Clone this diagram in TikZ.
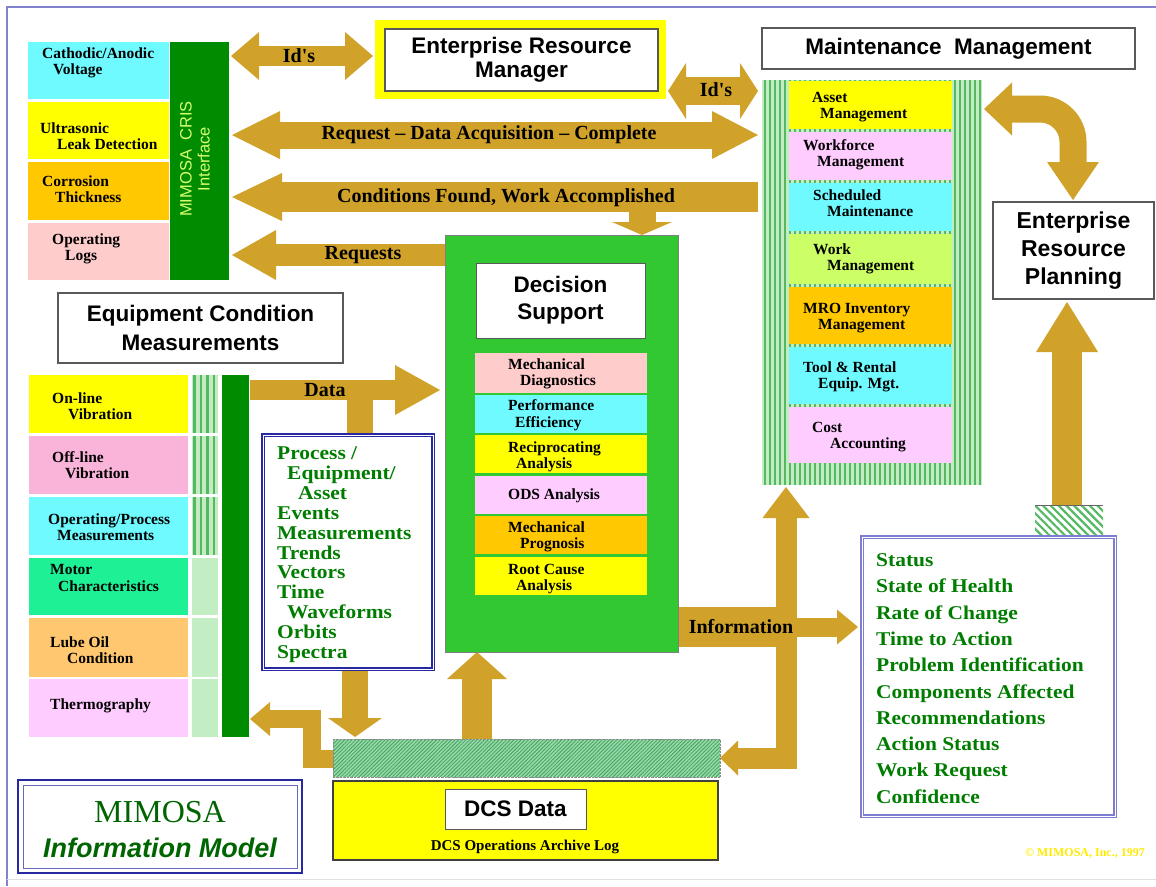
\documentclass[tikz,border=0pt]{standalone}
\usepackage{fontspec}
\setmainfont{Liberation Serif}
\setsansfont{Liberation Sans}
\newfontfamily\gfont[FakeStretch=1.1]{Liberation Serif}
\usetikzlibrary{arrows.meta,patterns.meta}
\definecolor{cyb}{RGB}{110,250,255}
\definecolor{yel}{RGB}{255,255,0}
\definecolor{org}{RGB}{255,200,0}
\definecolor{salm}{RGB}{255,204,204}
\definecolor{lav}{RGB}{255,204,255}
\definecolor{offp}{RGB}{250,180,218}
\definecolor{mint}{RGB}{30,240,150}
\definecolor{lube}{RGB}{255,200,112}
\definecolor{lime}{RGB}{204,255,102}
\definecolor{dsgreen}{RGB}{50,200,50}
\definecolor{dkgreen}{RGB}{0,140,0}
\definecolor{stripeg}{RGB}{85,185,100}
\definecolor{stripel}{RGB}{195,236,195}
\definecolor{paleg}{RGB}{195,238,195}
\definecolor{gold}{RGB}{208,162,42}
\definecolor{txtgreen}{RGB}{0,125,0}
\definecolor{frameblue}{RGB}{130,130,205}
\definecolor{boxblue}{RGB}{40,40,160}
\definecolor{statblue}{RGB}{125,125,210}
\definecolor{cristext}{RGB}{215,255,110}
\definecolor{hatchg}{RGB}{150,218,168}
\definecolor{hatchd}{RGB}{70,160,100}
\definecolor{mimgreen}{RGB}{0,100,0}
\definecolor{copyyel}{RGB}{255,235,0}
\tikzset{
  cell/.style={rectangle, inner sep=0pt, outer sep=0pt, draw=none},
  lbl/.style={anchor=west, align=left, inner sep=0pt, font=\bfseries\fontsize{15.5}{16.5}\selectfont},
  hdr/.style={rectangle, draw=black!65, line width=1.1pt, fill=white, inner sep=0pt, outer sep=0pt, align=center, font=\sffamily\bfseries\fontsize{22.5}{27}\selectfont},
  alab/.style={inner sep=0pt, font=\bfseries\fontsize{20}{22}\selectfont},
  ga/.style={draw=gold, line width=#1, line cap=butt, line join=miter},
  gtxt/.style={anchor=base west, inner sep=0pt, text=txtgreen, font=\gfont\bfseries\fontsize{19.5}{20}\selectfont},
}
\begin{document}
\begin{tikzpicture}[x=1pt,y=-1pt]
\useasboundingbox (0,0) rectangle (1156,886);
% frame
\draw[frameblue, line width=1.5pt] (7,886) -- (7,7) -- (1156,7);
\draw[black!12, line width=1pt] (7,879) -- (1156,879);

% ---------- arrows (drawn under boxes) ----------
\coordinate (a1l) at (231,56); \coordinate (a1r) at (373,56);
\draw[ga=20pt, {Triangle[length=28pt,width=48pt,line width=0pt]}-{Triangle[length=28pt,width=48pt,line width=0pt]}] (a1l) -- (a1r);
\coordinate (a2l) at (668,91); \coordinate (a2r) at (758,91);
\draw[ga=28pt, {Triangle[length=18pt,width=56pt,line width=0pt]}-{Triangle[length=18pt,width=56pt,line width=0pt]}] (a2l) -- (a2r);
\coordinate (a3l) at (232,135); \coordinate (a3r) at (758,135);
\draw[ga=27pt, {Triangle[length=48pt,width=48pt,line width=0pt]}-{Triangle[length=46pt,width=48pt,line width=0pt]}] (a3l) -- (a3r);
\coordinate (a4l) at (232,197); \coordinate (a4r) at (758,197);
\draw[ga=30pt, -{Triangle[length=50pt,width=48pt,line width=0pt]}] (a4r) -- (a4l);
\coordinate (a4s) at (642,205); \coordinate (a4t) at (642,235);
\draw[ga=27pt, -{Triangle[length=13pt,width=60pt,line width=0pt]}] (a4s) -- (a4t);
\coordinate (a5r) at (446,255); \coordinate (a5l) at (232,255);
\draw[ga=22pt, -{Triangle[length=44pt,width=50pt,line width=0pt]}] (a5r) -- (a5l);
\coordinate (a6l) at (250,390); \coordinate (a6r) at (440,390);
\draw[ga=20pt, -{Triangle[length=45pt,width=50pt,line width=0pt]}] (a6l) -- (a6r);
\coordinate (a6s) at (360,390); \coordinate (a6t) at (360,436);
\draw[ga=26pt] (a6s) -- (a6t);
\coordinate (a7s) at (355,668); \coordinate (a7t) at (355,737);
\draw[ga=26pt, -{Triangle[length=19pt,width=54pt,line width=0pt]}] (a7s) -- (a7t);
\coordinate (a8s) at (477,740); \coordinate (a8t) at (477,652);
\draw[ga=30pt, -{Triangle[length=27pt,width=60pt,line width=0pt]}] (a8s) -- (a8t);
\coordinate (a9s) at (334,759); \coordinate (a9c1) at (312,759); \coordinate (a9c2) at (312,719); \coordinate (a9t) at (250,719);
\draw[ga=18pt, -{Triangle[length=20pt,width=34pt,line width=0pt]}] (a9s) -- (a9c1) -- (a9c2) -- (a9t);
% information
\coordinate (i0) at (677,627); \coordinate (i1) at (797,627); \coordinate (i2) at (790,627); \coordinate (i3) at (858,627);
\draw[ga=40pt] (i0) -- (i1);
\draw[ga=19pt, -{Triangle[length=21pt,width=35pt,line width=0pt]}] (i2) -- (i3);
\coordinate (iu) at (786,487); \coordinate (ic) at (786,758); \coordinate (il) at (720,758);
\draw[ga=21pt, {Triangle[length=31pt,width=47pt,line width=0pt]}-{Triangle[length=18pt,width=35pt,line width=0pt]}] (iu) -- (ic) -- (il);
% ERP arrows
\coordinate (e1s) at (1067,506); \coordinate (e1t) at (1067,302);
\draw[ga=30pt, -{Triangle[length=50pt,width=62pt,line width=0pt]}] (e1s) -- (e1t);
\coordinate (e2a) at (984,109); \coordinate (e2c) at (1073,109); \coordinate (e2b) at (1073,200);
\draw[ga=27pt, rounded corners=33pt, {Triangle[length=28pt,width=53pt,line width=0pt]}-{Triangle[length=38pt,width=52pt,line width=0pt]}] (e2a) -- (e2c) -- (e2b);

% ---------- CRIS group ----------
\node[cell, fill=cyb, minimum width=141pt, minimum height=57pt] (cav) at (98.5,70.5) {};
\node[cell, fill=yel, minimum width=141pt, minimum height=57pt] (uld) at (98.5,130.5) {};
\node[cell, fill=org, minimum width=141pt, minimum height=58pt] (cth) at (98.5,191) {};
\node[cell, fill=salm, minimum width=141pt, minimum height=57pt] (olg) at (98.5,251.5) {};
\node[cell, fill=dkgreen, minimum width=59pt, minimum height=238pt] (cris) at (199.5,161) {};
\node[lbl] (tcav) at (42,63) {Cathodic/Anodic\\\hspace*{11pt}Voltage};
\node[lbl] (tuld) at (40,136) {Ultrasonic\\\hspace*{17pt}Leak Detection};
\node[lbl] (tcth) at (42,189) {Corrosion\\\hspace*{13pt}Thickness};
\node[lbl] (tolg) at (52,249) {Operating\\\hspace*{13pt}Logs};
\node[rotate=90, align=center, inner sep=0pt, text=cristext, font=\sffamily\fontsize{16.5}{18}\selectfont] (tcris) at (195,159) {MIMOSA\ \ CRIS\\Interface};

% ---------- Enterprise Resource Manager ----------
\node[cell, fill=yel, minimum width=291pt, minimum height=79pt] (ermy) at (520.5,59.5) {};
\node[hdr, minimum width=273pt, minimum height=62pt, font=\sffamily\bfseries\fontsize{22.5}{24}\selectfont] (erm) at (521.5,60) {Enterprise Resource\\Manager};

% ---------- Maintenance Management ----------
\node[hdr, minimum width=373pt, minimum height=41pt] (mmh) at (948.5,48.5) {Maintenance\ \ Management};
\node[cell, fill=stripel, minimum width=220pt, minimum height=405pt] (mcol) at (872,282.5) {};
\foreach \i in {0,...,43} \fill[stripeg] ({763.5+5*\i},80) rectangle ++(2.5,405);
\node[cell, fill=yel, minimum width=163pt, minimum height=48pt] (am) at (870.5,105) {};
\node[cell, fill=lav, minimum width=163pt, minimum height=48pt] (wm) at (870.5,156) {};
\node[cell, fill=cyb, minimum width=163pt, minimum height=48pt] (sm) at (870.5,207) {};
\node[cell, fill=lime, minimum width=163pt, minimum height=50pt] (wkm) at (870.5,259) {};
\node[cell, fill=org, minimum width=163pt, minimum height=57pt] (mro) at (870.5,315.5) {};
\node[cell, fill=cyb, minimum width=163pt, minimum height=57pt] (tool) at (870.5,375.5) {};
\node[cell, fill=lav, minimum width=163pt, minimum height=56pt] (cost) at (870.5,435) {};
\node[lbl] (tam) at (812,107) {Asset\\\hspace*{8pt}Management};
\node[lbl] (twm) at (803,155) {Workforce\\\hspace*{14pt}Management};
\node[lbl] (tsm) at (813,203) {Scheduled\\\hspace*{14pt}Maintenance};
\node[lbl] (twkm) at (813,259) {Work\\\hspace*{14pt}Management};
\node[lbl] (tmro) at (803,318) {MRO Inventory\\\hspace*{15pt}Management};
\node[lbl] (ttool) at (803,377) {Tool \& Rental\\\hspace*{15pt}Equip. Mgt.};
\node[lbl] (tcost) at (812,437) {Cost\\\hspace*{18pt}Accounting};

% ---------- ERP ----------
\node[hdr, minimum width=161pt, minimum height=97pt, font=\sffamily\bfseries\fontsize{23}{28}\selectfont] (erp) at (1073.5,250.5) {Enterprise\\Resource\\Planning};
\node[cell, pattern={Lines[angle=-45,distance=5.5pt,line width=2.2pt]}, pattern color=stripeg, minimum width=68pt, minimum height=30pt] (erph) at (1069,520) {};
\draw[black!60, line width=1pt] (erph.north west) -- (erph.north east);

% ---------- Decision Support ----------
\node[cell, fill=dsgreen, draw=black!50, line width=0.8pt, minimum width=233pt, minimum height=417pt] (ds) at (561.5,443.5) {};
\node[hdr, minimum width=169pt, minimum height=75pt, line width=1pt] (dsh) at (560.5,300.5) {Decision\\Support};
\node[cell, fill=salm, minimum width=172pt, minimum height=40pt] (md) at (561,373) {};
\node[cell, fill=cyb, minimum width=172pt, minimum height=38pt] (pe) at (561,414) {};
\node[cell, fill=yel, minimum width=172pt, minimum height=38pt] (ra) at (561,454) {};
\node[cell, fill=lav, minimum width=172pt, minimum height=38pt] (ods) at (561,495) {};
\node[cell, fill=org, minimum width=172pt, minimum height=38pt] (mp) at (561,535) {};
\node[cell, fill=yel, minimum width=172pt, minimum height=38pt] (rca) at (561,576) {};
\node[lbl] (tmd) at (508,374) {Mechanical\\\hspace*{12pt}Diagnostics};
\node[lbl] (tpe) at (508,415) {Performance\\\hspace*{7pt}Efficiency};
\node[lbl] (tra) at (508,457) {Reciprocating\\\hspace*{8pt}Analysis};
\node[lbl] (tods) at (508,496) {ODS Analysis};
\node[lbl] (tmp) at (508,537) {Mechanical\\\hspace*{12pt}Prognosis};
\node[lbl] (trca) at (508,579) {Root Cause\\\hspace*{8pt}Analysis};

% ---------- Equipment Condition Measurements ----------
\node[hdr, minimum width=285pt, minimum height=70pt, font=\sffamily\bfseries\fontsize{22.5}{29}\selectfont] (ecmh) at (200.5,328) {Equipment Condition\\Measurements};
\node[cell, fill=yel, minimum width=159pt, minimum height=58pt] (olv) at (108.5,404) {};
\node[cell, fill=offp, minimum width=159pt, minimum height=58pt] (ofv) at (108.5,465) {};
\node[cell, fill=cyb, minimum width=159pt, minimum height=58pt] (opm) at (108.5,526) {};
\node[cell, fill=mint, minimum width=159pt, minimum height=57pt] (mc) at (108.5,586.5) {};
\node[cell, fill=lube, minimum width=159pt, minimum height=59pt] (loc) at (108.5,647.5) {};
\node[cell, fill=lav, minimum width=159pt, minimum height=58pt] (thg) at (108.5,708) {};
\foreach \ya/\yb in {375/433,436/494,497/555} {
  \fill[stripel] (192,\ya) rectangle (218,\yb);
  \foreach \x in {193,199.5,206,212.5} \fill[stripeg] (\x,\ya) rectangle (\x+2.5,\yb);
}
\foreach \ya/\yb in {558/615,618/677,679/737} \fill[paleg] (192,\ya) rectangle (218,\yb);
\node[cell, fill=dkgreen, minimum width=27pt, minimum height=362pt] (ecmbar) at (235.5,556) {};
\node[lbl] (tolv) at (52,406) {On-line\\\hspace*{16pt}Vibration};
\node[lbl] (tofv) at (52,465) {Off-line\\\hspace*{13pt}Vibration};
\node[lbl] (topm) at (48,527) {Operating/Process\\\hspace*{9pt}Measurements};
\node[lbl] (tmc) at (50,578) {Motor\\\hspace*{8pt}Characteristics};
\node[lbl] (tloc) at (50,650) {Lube Oil\\\hspace*{17pt}Condition};
\node[lbl] (tthg) at (50,706) {Thermography};

% ---------- Process / Equipment box ----------
\node[cell, draw=boxblue, double=white, double distance=1pt, line width=1.1pt, minimum width=170pt, minimum height=234pt] (spec) at (348,552) {};
\foreach \t [count=\i] in {{Process /},{\hspace*{10pt}Equipment/},{\hspace*{21pt}Asset},{Events},{Measurements},{Trends},{Vectors},{Time},{\hspace*{10pt}Waveforms},{Orbits},{Spectra}}
  \node[gtxt] (sp\i) at (277,{459.5+19.9*(\i-1)}) {\t};

% ---------- Status box ----------
\node[cell, draw=statblue, double=white, double distance=0.8pt, line width=1.2pt, minimum width=253pt, minimum height=279pt] (stat) at (988.5,676.5) {};
\foreach \t [count=\i] in {Status,State of Health,Rate of Change,Time to Action,Problem Identification,Components Affected,Recommendations,Action Status,Work Request,Confidence}
  \node[gtxt] (st\i) at (876,{566.5+26.3*(\i-1)}) {\t};

% ---------- DCS ----------
\node[cell, preaction={fill=hatchg}, pattern={Lines[angle=45,distance=2.6pt,line width=0.8pt]}, pattern color=hatchd, minimum width=387pt, minimum height=38pt] (dcsh) at (526.5,758) {};
\draw[black!45, densely dotted] (dcsh.north west) rectangle (dcsh.south east);
\node[cell, fill=yel, draw=black!75, line width=1.2pt, minimum width=385pt, minimum height=79pt] (dcs) at (525.5,820.5) {};
\node[hdr, minimum width=141pt, minimum height=40pt, line width=1pt] (dcsd) at (515.5,809) {DCS Data};
\node[inner sep=0pt, font=\bfseries\fontsize{15}{16}\selectfont] (dcsl) at (525,847) {DCS Operations Archive Log};

% ---------- MIMOSA box ----------
\node[cell, draw=boxblue, line width=2pt, minimum width=284pt, minimum height=93pt] (mimo) at (160,826.5) {};
\node[cell, draw=boxblue!70, line width=0.9pt, minimum width=274pt, minimum height=83pt] (mimoi) at (160,826.5) {};
\node[inner sep=0pt, text=mimgreen, font=\fontsize{32}{36}\selectfont] (mimt) at (160,812) {MIMOSA};
\node[inner sep=0pt, text=mimgreen, font=\sffamily\bfseries\itshape\fontsize{27}{30}\selectfont] (mimm) at (160,848) {Information Model};

% ---------- arrow labels ----------
\node[alab] (lid1) at (299,56) {Id\textquotesingle s};
\node[alab] (lid2) at (716,90) {Id\textquotesingle s};
\node[alab] (lreq) at (489,135) {Request -- Data Acquisition -- Complete};
\node[alab] (lcond) at (506,198) {Conditions Found, Work Accomplished};
\node[alab] (lreqs) at (363,255) {Requests};
\node[alab] (ldata) at (325,390) {Data};
\node[alab] (linfo) at (741,627) {Information};

% copyright
\node[inner sep=0pt, text=copyyel, font=\bfseries\fontsize{12}{13}\selectfont] (copy) at (1085,853) {© MIMOSA, Inc., 1997};
\end{tikzpicture}
\end{document}
